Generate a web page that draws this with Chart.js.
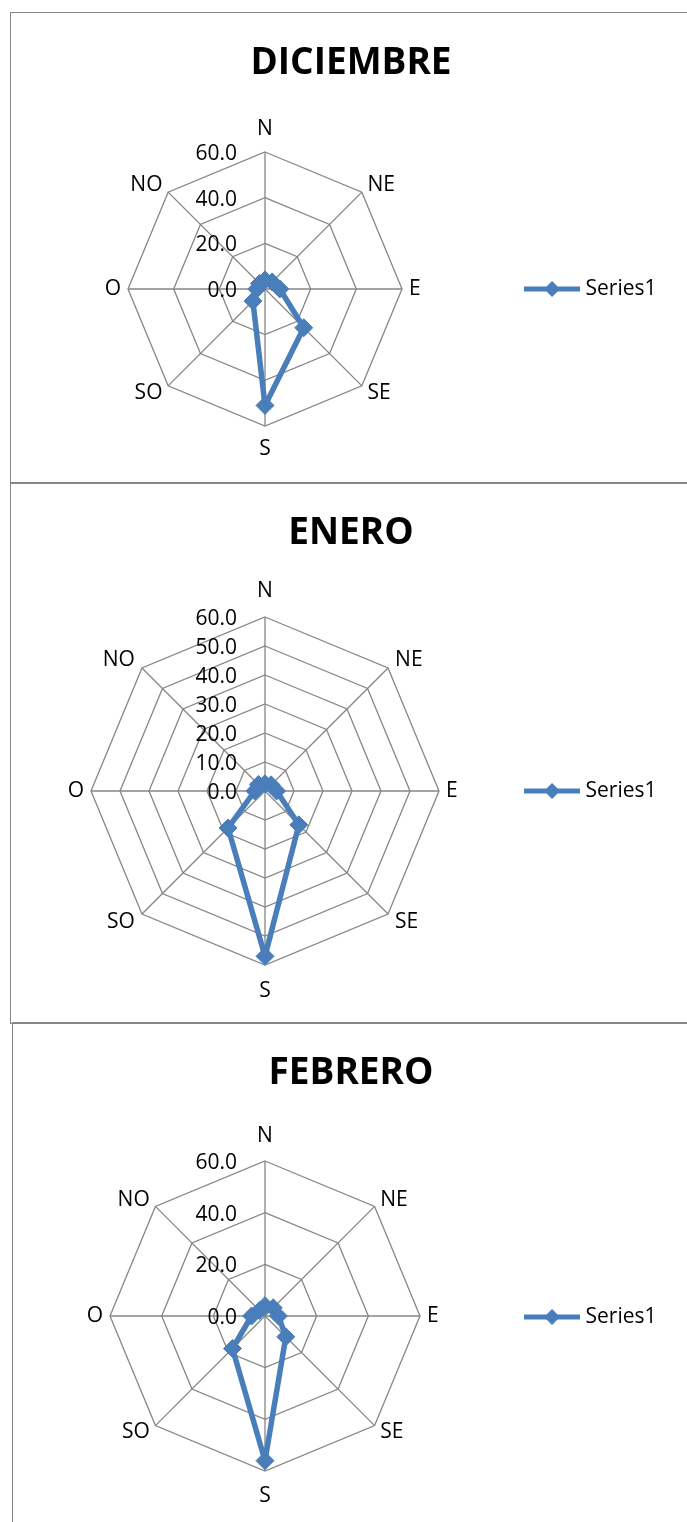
<!DOCTYPE html>
<html>
<head>
<meta charset="utf-8">
<script src="https://cdn.jsdelivr.net/npm/chart.js@4"></script>
<style>
  body { margin: 0; width: 687px; height: 1522px; overflow: hidden; background: #fff; position: relative; }
  .frame { position: absolute; border: 1px solid #868686; border-right: none; width: 720px; }
  canvas { position: absolute; left: 11px; }
</style>
</head>
<body>
<div class="frame" style="left:10px;top:12px;height:470px;"></div>
<div class="frame" style="left:10px;top:482px;height:540px;"></div>
<div class="frame" style="left:12px;top:1022px;height:520px;"></div>
<canvas id="diciembre" width="680" height="470" style="top:12px"></canvas>
<canvas id="enero" width="680" height="540" style="top:482px"></canvas>
<canvas id="febrero" width="680" height="500" style="top:1022px"></canvas>
<script>
const directions = ['N', 'NE', 'E', 'SE', 'S', 'SO', 'O', 'NO'];
const diciembre = [4, 4.4, 6.5, 24, 51, 7.5, 3.6, 3.4];
const enero = [2.5, 3, 4, 16.5, 57, 18, 3.5, 3.2];
const febrero = [4, 4.5, 5.2, 11.4, 56, 17.8, 5.2, 3];
const ringsDiciembre = [0, 20, 40, 60];
const ringsEnero = [0, 10, 20, 30, 40, 50, 60];
const ringsFebrero = [0, 20, 40, 60];
const seriesName = 'Series1';

const blue = '#4A7EBB';
const grey = '#868686';
const family = '"Open Sans", sans-serif';

// legend marker: line with a diamond in the middle
function legendMarker() {
    const c = document.createElement('canvas');
    c.width = 56;
    c.height = 16;
    const g = c.getContext('2d');
    g.strokeStyle = blue;
    g.lineWidth = 5;
    g.beginPath();
    g.moveTo(0, 8);
    g.lineTo(56, 8);
    g.stroke();
    g.fillStyle = blue;
    g.beginPath();
    g.moveTo(20, 8);
    g.lineTo(28, 0);
    g.lineTo(36, 8);
    g.lineTo(28, 16);
    g.closePath();
    g.fill();
    return c;
}
const marker = legendMarker();

// tick values drawn right-aligned to the left of the N axis
const tickLabels = {
    id: 'tickLabels',
    beforeDatasetsDraw(chart) {
        const r = chart.scales.r;
        const ctx = chart.ctx;
        ctx.save();
        ctx.font = '21px ' + family;
        ctx.fillStyle = '#000';
        ctx.textAlign = 'right';
        ctx.textBaseline = 'middle';
        r.ticks.forEach(t => {
            const d = r.getDistanceFromCenterForValue(t.value);
            ctx.fillText(t.value.toFixed(1), r.xCenter - 28, r.yCenter - d + 2);
        });
        ctx.restore();
    }
};

// trailing space keeps the legend away from the right edge
// without shifting the title off centre
function legendItems(chart) {
    return Chart.defaults.plugins.legend.labels.generateLabels(chart)
        .map(item => Object.assign(item, { text: item.text + '\u2002\u2002\u2009' }));
}

function windRose(id, title, values, rings, lay) {
    const ctx = document.getElementById(id);
    new Chart(ctx, {
        type: 'radar',
        data: {
            labels: directions,
            datasets: [{
                label: seriesName,
                data: values,
                borderColor: blue,
                backgroundColor: blue,
                borderWidth: 5.5,
                borderJoinStyle: 'round',
                fill: false,
                pointStyle: 'rectRot',
                pointRadius: 9,
                pointBorderWidth: 1,
                pointBackgroundColor: blue,
                pointBorderColor: blue
            }]
        },
        options: {
            responsive: false,
            animation: false,
            layout: { padding: { left: 0, right: 0, top: 0, bottom: lay.bottom } },
            plugins: {
                title: {
                    display: true,
                    text: title,
                    color: '#000',
                    font: { family: family, size: 37, weight: 'bold' },
                    padding: { top: 28.8, bottom: lay.titleGap }
                },
                legend: {
                    position: 'right',
                    fullSize: false,
                    labels: {
                        usePointStyle: true,
                        pointStyle: marker,
                        pointStyleWidth: 46,
                        color: '#000',
                        font: { family: family, size: 21 },
                        padding: 10,
                        generateLabels: legendItems
                    }
                },
                tooltip: { enabled: false }
            },
            scales: {
                r: {
                    min: rings[0],
                    max: rings[rings.length - 1],
                    ticks: { stepSize: rings[1] - rings[0], display: false },
                    grid: { color: grey, lineWidth: 1.3 },
                    angleLines: { color: grey, lineWidth: 1.3 },
                    pointLabels: {
                        color: '#000',
                        // diagonal labels sit level with their vertex
                        font: (c) => ({ family: family, size: 21, lineHeight: c.index % 2 ? 0.1 : 1.2 }),
                        padding: (c) => {
                            if (c.index === 0 || c.index === 4) return lay.pad;
                            return c.index % 2 ? lay.diag : 7;
                        }
                    }
                }
            }
        },
        plugins: [tickLabels]
    });
}

windRose('diciembre', 'DICIEMBRE', diciembre, ringsDiciembre, { bottom: 20.8, titleGap: 31.6, pad: 10, diag: 8 });
windRose('enero', 'ENERO', enero, ringsEnero, { bottom: 18.8, titleGap: 23.6, pad: 13, diag: 10 });
windRose('febrero', 'FEBRERO', febrero, ringsFebrero, { bottom: 12.8, titleGap: 29.6, pad: 12, diag: 8 });
</script>
</body>
</html>
